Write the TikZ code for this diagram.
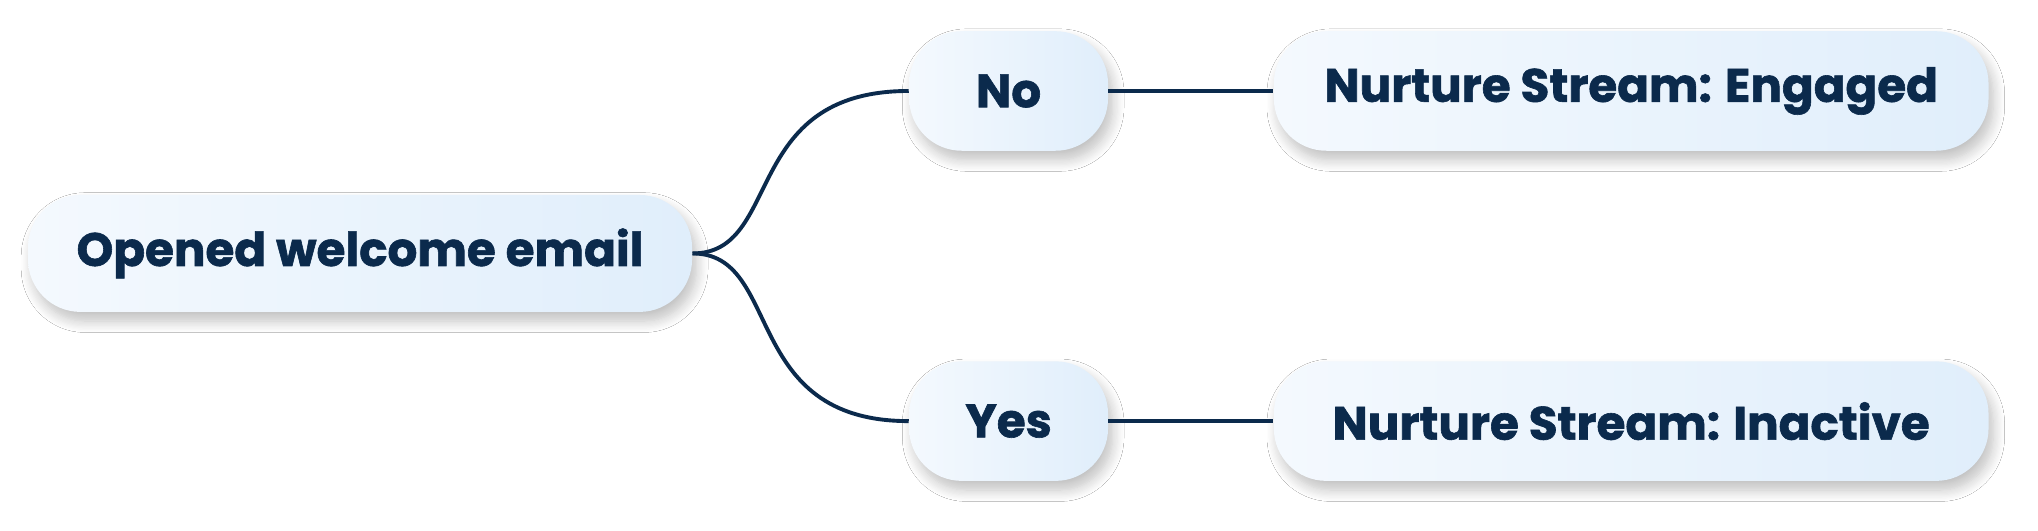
\documentclass[tikz,border=0pt]{standalone}
\usepackage{fontspec}
\setmainfont{Poppins}[BoldFeatures={FakeBold=1.3}]
\usetikzlibrary{shadows.blur}
\definecolor{navy}{HTML}{0B2A4C}
\definecolor{boxl}{HTML}{F4F9FE}
\definecolor{boxr}{HTML}{E0EEFB}
\tikzset{
  pill/.style={rounded corners=23pt, left color=boxl, right color=boxr, draw=none,
    text=navy, font=\fontsize{20.5}{24}\selectfont\bfseries, inner sep=0pt,
    blur shadow={shadow blur steps=10, shadow xshift=2pt, shadow yshift=-4pt, shadow opacity=25, shadow blur radius=5pt, shadow blur extra rounding=0pt}},
  link/.style={draw=navy, line width=1.7pt}
}
\begin{document}
\begin{tikzpicture}[x=0.02cm,y=-0.02cm]
\useasboundingbox[fill=white] (0,0) rectangle (1568,408);
\node[pill, minimum width=10.22cm, minimum height=1.8cm] (root) at (277,195) {Opened welcome email};
\node[pill, minimum width=3.06cm, minimum height=1.84cm] (no) at (776,70) {No};
\node[pill, minimum width=3.06cm, minimum height=1.84cm] (yes) at (776,324) {Yes};
\node[pill, minimum width=11cm, minimum height=1.84cm] (eng) at (1255,70) {Nurture Stream: Engaged};
\node[pill, minimum width=11cm, minimum height=1.84cm] (ina) at (1255,324) {Nurture Stream: Inactive};
\draw[link] (root.east) .. controls +(1.4cm,0) and +(-2.6cm,0) .. (no.west);
\draw[link] (root.east) .. controls +(1.4cm,0) and +(-2.6cm,0) .. (yes.west);
\draw[link] (no) -- (eng);
\draw[link] (yes) -- (ina);
\end{tikzpicture}
\end{document}
